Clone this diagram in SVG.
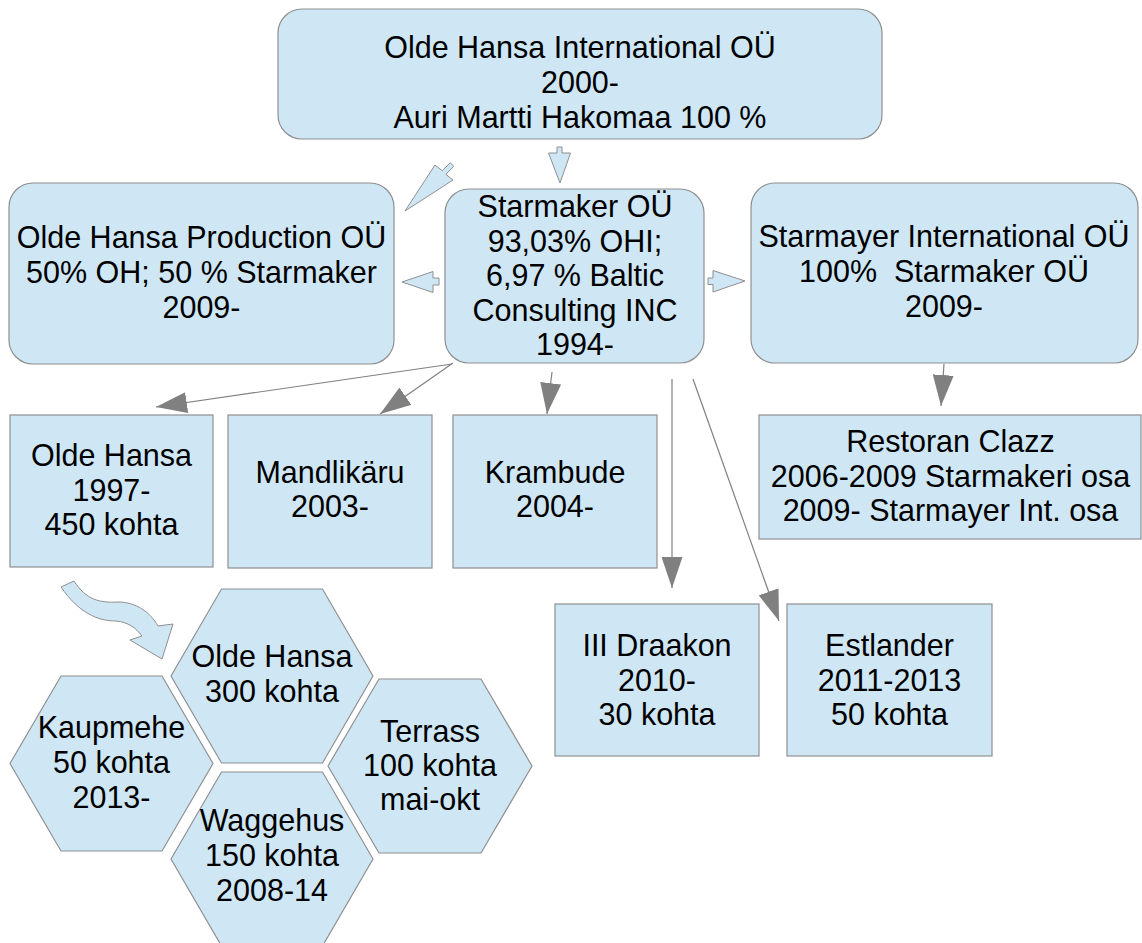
<svg xmlns="http://www.w3.org/2000/svg" width="1142" height="943" viewBox="0 0 1142 943">
<style>
.shape{fill:#cfe7f5;stroke:#8f8f8f;stroke-width:1.2}
.blk{fill:#cfe7f5;stroke:#8f8f8f;stroke-width:1}
.conn{fill:none;stroke:#808080;stroke-width:1.2;marker-end:url(#ah)}
text{font-family:"Liberation Sans",Arial,sans-serif;font-size:30.5px;fill:#000;text-anchor:middle}
</style>
<defs>
<marker id="ah" viewBox="0 0 31 21" markerWidth="31" markerHeight="21" refX="31" refY="10.5" orient="auto" markerUnits="userSpaceOnUse">
<path d="M0,0 L31,10.5 L0,21 Z" fill="#808080"/>
</marker>
</defs>
<rect width="1142" height="943" fill="#ffffff"/>

<g id="connectors">
<line class="conn" x1="452" y1="364" x2="156" y2="407"/>
<line class="conn" x1="453" y1="363" x2="380" y2="414"/>
<line class="conn" x1="552" y1="372" x2="547" y2="414"/>
<line class="conn" x1="672" y1="379" x2="672" y2="588"/>
<line class="conn" x1="693" y1="379" x2="779" y2="621"/>
<line class="conn" x1="944" y1="364" x2="941" y2="406"/>
<polygon class="blk" points="557,147 562,147 562,153 570.5,153 560,183 548.5,153 557,153"/>
<polygon class="blk" points="450.2,162.8 442.2,170.7 435,165 405,211 453,180 445.8,174.3 453.8,166.4"/>
<polygon class="blk" points="439,278 433,278 433,271.5 402,282 433,292.5 433,285 439,285"/>
<polygon class="blk" points="708,278 713,278 713,270.5 745,281 713,292 713,284.5 708,284.5"/>
<path class="blk" d="M61,587 L74,581 C86,600 100,603 118,602 C136,602 150,612 158,626 L173,624 L162,659 L130,640 L142,636 C136,628 128,622 116,621 C97,621 78,612 61,587 Z"/>
</g>

<g id="olde-hansa-international">
<rect class="shape" x="278" y="9" width="604" height="130" rx="24"/>
<text x="580" y="58">Olde Hansa International OÜ</text>
<text x="580" y="93">2000-</text>
<text x="580" y="128">Auri Martti Hakomaa 100 %</text>
</g>

<g id="olde-hansa-production">
<rect class="shape" x="9" y="183" width="385" height="181" rx="24"/>
<text x="201.5" y="248">Olde Hansa Production OÜ</text>
<text x="201.5" y="283">50% OH; 50 % Starmaker</text>
<text x="201.5" y="318">2009-</text>
</g>

<g id="starmaker">
<rect class="shape" x="445" y="189" width="259" height="174" rx="24"/>
<text x="575" y="217">Starmaker OÜ</text>
<text x="575" y="251.5">93,03% OHI;</text>
<text x="575" y="286">6,97 % Baltic</text>
<text x="575" y="320.5">Consulting INC</text>
<text x="575" y="355">1994-</text>
</g>

<g id="starmayer">
<rect class="shape" x="751" y="183" width="387" height="180" rx="24"/>
<text x="944" y="247">Starmayer International OÜ</text>
<text x="944" y="282" xml:space="preserve">100%  Starmaker OÜ</text>
<text x="944" y="317">2009-</text>
</g>

<g id="olde-hansa">
<rect class="shape" x="10" y="415" width="203" height="152"/>
<text x="111.5" y="466">Olde Hansa</text>
<text x="111.5" y="500.5">1997-</text>
<text x="111.5" y="535">450 kohta</text>
</g>

<g id="mandlikaru">
<rect class="shape" x="228" y="415" width="204" height="153"/>
<text x="330" y="483">Mandlikäru</text>
<text x="330" y="517">2003-</text>
</g>

<g id="krambude">
<rect class="shape" x="453" y="415" width="204" height="153"/>
<text x="555" y="483">Krambude</text>
<text x="555" y="517">2004-</text>
</g>

<g id="restoran-clazz">
<rect class="shape" x="759" y="415" width="382" height="124"/>
<text x="950.5" y="452">Restoran Clazz</text>
<text x="950.5" y="487">2006-2009 Starmakeri osa</text>
<text x="950.5" y="521">2009- Starmayer Int. osa</text>
</g>

<g id="iii-draakon">
<rect class="shape" x="555" y="604" width="204" height="152"/>
<text x="657" y="656">III Draakon</text>
<text x="657" y="690.5">2010-</text>
<text x="657" y="725">30 kohta</text>
</g>

<g id="estlander">
<rect class="shape" x="787" y="604" width="205" height="152"/>
<text x="889.5" y="656">Estlander</text>
<text x="889.5" y="690.5">2011-2013</text>
<text x="889.5" y="725">50 kohta</text>
</g>

<g id="hex-olde-hansa">
<polygon class="shape" points="171,676 221.5,589 322.5,589 373,676 322.5,763 221.5,763"/>
<text x="272" y="667">Olde Hansa</text>
<text x="272" y="702">300 kohta</text>
</g>

<g id="hex-kaupmehe">
<polygon class="shape" points="10,763.5 61,676 162,676 213,763.5 162,851 61,851"/>
<text x="111.5" y="738">Kaupmehe</text>
<text x="111.5" y="773">50 kohta</text>
<text x="111.5" y="807.5">2013-</text>
</g>

<g id="hex-terrass">
<polygon class="shape" points="328,766 379,679 481,679 532,766 481,853 379,853"/>
<text x="430" y="742">Terrass</text>
<text x="430" y="776">100 kohta</text>
<text x="430" y="810">mai-okt</text>
</g>

<g id="hex-waggehus">
<polygon class="shape" points="171,859 221.5,772 322.5,772 373,859 322.5,946 221.5,946"/>
<text x="272" y="831">Waggehus</text>
<text x="272" y="866">150 kohta</text>
<text x="272" y="900.5">2008-14</text>
</g>
</svg>
